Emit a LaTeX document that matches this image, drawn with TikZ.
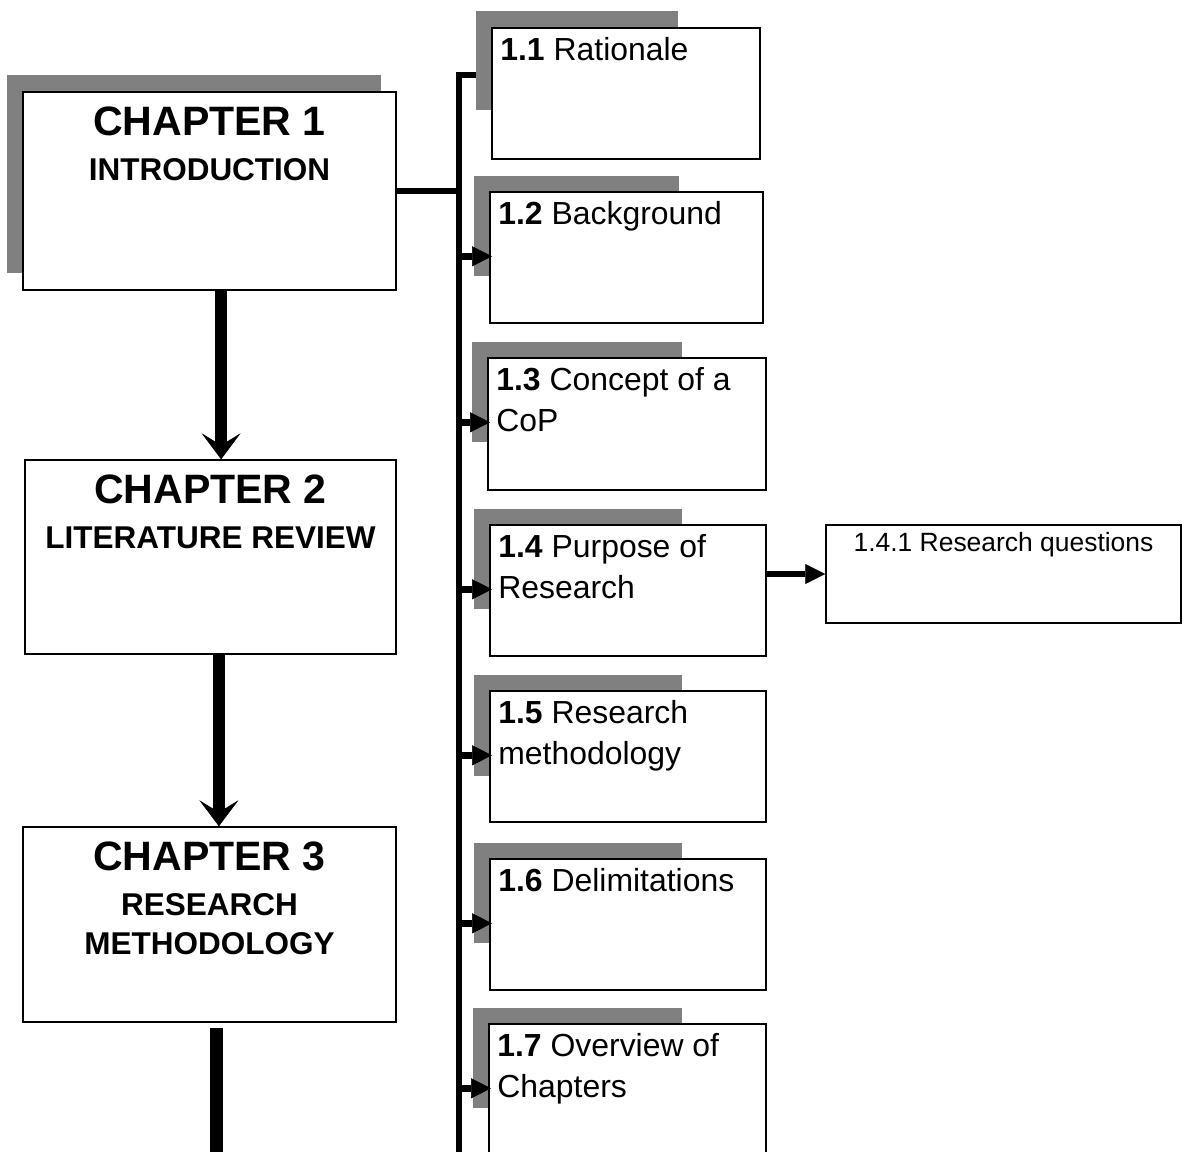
\documentclass[tikz,border=0pt]{standalone}
\usepackage{fontspec}
\setmainfont{Liberation Sans}
\usetikzlibrary{arrows.meta}

\begin{document}
\begin{tikzpicture}[x=0.025cm, y=-0.025cm,
  chapbox/.style={draw, line width=1pt, fill=white},
  subbox/.style={draw, line width=1pt, fill=white},
  chaphead/.style={font=\fontsize{29.2}{31}\selectfont\bfseries, inner sep=0pt, anchor=base},
  chapsub/.style={font=\fontsize{22.4}{28}\selectfont\bfseries, inner sep=0pt, anchor=base, align=center},
  subtext/.style={font=\fontsize{22.7}{29.2}\selectfont, inner sep=0pt, anchor=base west, align=left},
  bus/.style={line width=0.13cm},
  branch/.style={line width=0.16cm, -{Triangle[length=0.5cm, width=0.5cm, line width=0.4pt]}},
  chapdown/.style={line width=0.31cm, -{Stealth[length=0.65cm, width=0.975cm, inset=0.3cm, line width=0.4pt]}}]
  \useasboundingbox (0,0) rectangle (1189,1151);
  % shadows
  \fill[gray] (7,75) rectangle (381,273);
  \fill[gray] (476,11) rectangle (678,110);
  \fill[gray] (474,176) rectangle (679,276);
  \fill[gray] (472,342) rectangle (682,442);
  \fill[gray] (474,509) rectangle (682,609);
  \fill[gray] (474,675) rectangle (682,776);
  \fill[gray] (474,843) rectangle (682,943);
  \fill[gray] (473,1008) rectangle (682,1108);
  % chapters
  \node[chapbox, minimum width=9.325cm, minimum height=4.95cm] (c1) at (209.5,191) {};
  \node[chapbox, minimum width=9.275cm, minimum height=4.85cm] (c2) at (210.5,557) {};
  \node[chapbox, minimum width=9.325cm, minimum height=4.875cm] (c3) at (209.5,924.5) {};
  \node[chaphead] (h1) at ([yshift=-1.1cm]c1.north) {CHAPTER 1};
  \node[chapsub] (l1) at ([yshift=-2.225cm]c1.north) {INTRODUCTION};
  \node[chaphead] (h2) at ([yshift=-1.1cm]c2.north) {CHAPTER 2};
  \node[chapsub] (l2) at ([yshift=-2.225cm]c2.north) {LITERATURE REVIEW};
  \node[chaphead] (h3) at ([yshift=-1.1cm]c3.north) {CHAPTER 3};
  \node[chapsub] (l3) at ([yshift=-3.21cm]c3.north) {RESEARCH\\METHODOLOGY};
  % sections
  \node[subbox, minimum width=6.7cm, minimum height=3.275cm] (s1) at (626,93.5) {};
  \node[subbox, minimum width=6.825cm, minimum height=3.275cm] (s2) at (626.5,257.5) {};
  \node[subbox, minimum width=6.95cm, minimum height=3.3cm] (s3) at (627,424) {};
  \node[subbox, minimum width=6.9cm, minimum height=3.275cm] (s4) at (628,590.5) {};
  \node[subbox, minimum width=6.9cm, minimum height=3.275cm] (s5) at (628,756.5) {};
  \node[subbox, minimum width=6.9cm, minimum height=3.275cm] (s6) at (628,924.5) {};
  \node[subbox, minimum width=6.925cm, minimum height=3.65cm] (s7) at (627.5,1097) {};
  \node[subbox, minimum width=8.875cm, minimum height=2.45cm] (s41) at (1003.5,574) {};
  \node[subtext] (t1) at ([xshift=0.22cm, yshift=-0.825cm]s1.north west) {\textbf{1.1} Rationale};
  \node[subtext] (t2) at ([xshift=0.22cm, yshift=-0.825cm]s2.north west) {\textbf{1.2} Background};
  \node[subtext] (t3) at ([xshift=0.22cm, yshift=-1.85cm]s3.north west) {\textbf{1.3} Concept of a\\CoP};
  \node[subtext] (t4) at ([xshift=0.22cm, yshift=-1.85cm]s4.north west) {\textbf{1.4} Purpose of\\Research};
  \node[subtext] (t5) at ([xshift=0.22cm, yshift=-1.85cm]s5.north west) {\textbf{1.5} Research\\methodology};
  \node[subtext] (t6) at ([xshift=0.22cm, yshift=-0.825cm]s6.north west) {\textbf{1.6} Delimitations};
  \node[subtext] (t7) at ([xshift=0.22cm, yshift=-1.85cm]s7.north west) {\textbf{1.7} Overview of\\Chapters};
  \node[font=\fontsize{18.8}{22}\selectfont, inner sep=0pt, anchor=base] (t41) at ([yshift=-0.675cm]s41.north) {1.4.1 Research questions};
  % connectors
  \coordinate (bustop) at (459,75);
  \coordinate (busend) at (459,1165);
  \coordinate (shtop) at (476,75);
  \draw[bus] (busend) -- (bustop) -- (shtop);
  \draw[bus] (c1.east) -- (c1.east -| bustop);
  \foreach \i in {2,...,7} {
    \path ([xshift=0.07cm, yshift=-1.625cm]s\i.north west) coordinate (a\i);
    \draw[branch] (a\i -| bustop) -- (a\i);
  }
  \draw[branch] (s4.east |- s41.west) -- (s41.west);
  \draw[chapdown] ([xshift=0.29cm]c1.south) -- ([xshift=0.29cm]c1.south |- c2.north);
  \draw[chapdown] ([xshift=0.21cm]c2.south) -- ([xshift=0.21cm]c2.south |- c3.north);
  \coordinate (c3end) at ([xshift=0.165cm, yshift=-3.6cm]c3.south);
  \draw[line width=0.325cm] ([xshift=0.165cm, yshift=-0.125cm]c3.south) -- (c3end);
\end{tikzpicture}
\end{document}
